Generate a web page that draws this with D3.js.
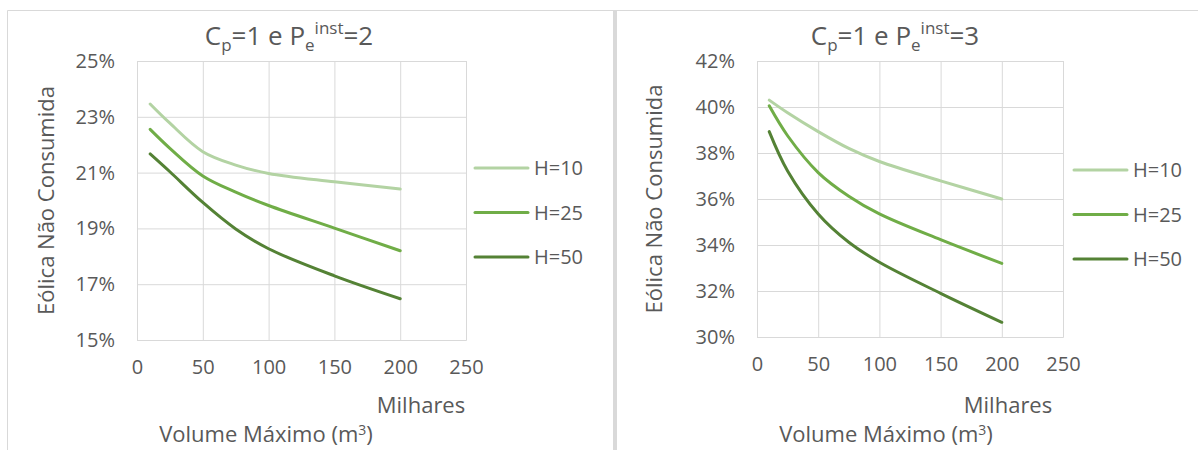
<!DOCTYPE html>
<html>
<head>
<meta charset="utf-8">
<script src="https://cdn.jsdelivr.net/npm/d3@7"></script>
<style>
  body { margin: 0; background: #fff; }
  svg { display: block; font-family: "Open Sans", sans-serif; }
</style>
</head>
<body>
<div id="chart"></div>
<script>
// data (values in %)
const volumes = [10, 25, 50, 75, 100, 150, 200];
const seriesNames = ["H=10", "H=25", "H=50"];

const leftH10 = [23.46, 22.77, 21.75, 21.27, 20.97, 20.67, 20.41];
const leftH25 = [22.55, 21.87, 20.88, 20.3, 19.82, 19.01, 18.2];
const leftH50 = [21.67, 21.03, 19.93, 18.98, 18.27, 17.3, 16.48];

const rightH10 = [40.3, 39.75, 38.93, 38.2, 37.63, 36.79, 36.0];
const rightH25 = [40.05, 38.75, 37.15, 36.12, 35.35, 34.23, 33.2];
const rightH50 = [38.93, 37.22, 35.35, 34.12, 33.25, 31.9, 30.64];

const xTicks = [0, 50, 100, 150, 200, 250];
const leftYTicks = [15, 17, 19, 21, 23, 25];
const rightYTicks = [30, 32, 34, 36, 38, 40, 42];

const colors = ["#b3d3a3", "#70ad47", "#548235"];
const textColor = "#595959";
const gridColor = "#d9d9d9";

const width = 1198;
const height = 450;

const svg = d3
  .select("#chart")
  .append("svg")
  .attr("width", width)
  .attr("height", height);

// chart area borders
svg.append("line")
  .attr("x1", 7.5).attr("x2", width).attr("y1", 10.5).attr("y2", 10.5)
  .attr("stroke", gridColor);
svg.append("line")
  .attr("x1", 7.5).attr("x2", 7.5).attr("y1", 10.5).attr("y2", height)
  .attr("stroke", gridColor);
svg.append("rect")
  .attr("x", 613).attr("y", 10).attr("width", 4).attr("height", height - 10)
  .attr("fill", gridColor);

function drawPanel(cfg) {
  const x = d3.scaleLinear().domain([0, 250]).range([cfg.left, cfg.right]);
  const y = d3.scaleLinear()
    .domain([cfg.yTicks[0], cfg.yTicks[cfg.yTicks.length - 1]])
    .range([cfg.bottom, cfg.top]);
  const plotW = cfg.right - cfg.left;
  const plotH = cfg.bottom - cfg.top;

  // y grid + labels
  const yAxisG = svg.append("g")
    .attr("transform", `translate(${cfg.left},0)`)
    .call(d3.axisLeft(y)
      .tickValues(cfg.yTicks)
      .tickSize(-plotW)
      .tickPadding(22)
      .tickFormat((d) => d + "%"));

  // x grid + labels
  const xAxisG = svg.append("g")
    .attr("transform", `translate(0,${cfg.bottom})`)
    .call(d3.axisBottom(x)
      .tickValues(xTicks)
      .tickSize(-plotH)
      .tickPadding(20));

  [yAxisG, xAxisG].forEach((g) => {
    g.select(".domain").attr("stroke", gridColor);
    g.selectAll(".tick line").attr("stroke", gridColor);
    g.selectAll(".tick text")
      .attr("fill", textColor)
      .style("font-size", "20px")
      .style("font-family", "'Open Sans', sans-serif");
  });

  const line = d3.line()
    .x((d) => x(d[0]))
    .y((d) => y(d[1]))
    .curve(d3.curveCatmullRom.alpha(0.5));

  cfg.series.forEach((vals, i) => {
    svg.append("path")
      .datum(volumes.map((v, j) => [v, vals[j]]))
      .attr("fill", "none")
      .attr("stroke", colors[i])
      .attr("stroke-width", 3)
      .attr("stroke-linecap", "round")
      .attr("d", line);
  });

  // title
  const title = svg.append("text")
    .attr("x", cfg.titleX)
    .attr("y", 45)
    .attr("text-anchor", "middle")
    .attr("fill", textColor)
    .style("font-size", "26px");
  title.append("tspan").text("C");
  title.append("tspan").attr("dy", 6).style("font-size", "17px").text("p");
  title.append("tspan").attr("dy", -6).text("=1 e P");
  title.append("tspan").attr("dy", 6).style("font-size", "17px").text("e");
  title.append("tspan").attr("dy", -17).style("font-size", "17px").text("inst");
  title.append("tspan").attr("dy", 11).text("=" + cfg.pe);

  // y axis title
  svg.append("text")
    .attr("transform", `translate(${cfg.yTitleX},${(cfg.top + cfg.bottom) / 2}) rotate(-90)`)
    .attr("text-anchor", "middle")
    .attr("dy", "0.35em")
    .attr("fill", textColor)
    .style("font-size", "22px")
    .text("Eólica Não Consumida");

  // display units + x axis title
  svg.append("text")
    .attr("x", cfg.unitX)
    .attr("y", 413)
    .attr("text-anchor", "middle")
    .attr("fill", textColor)
    .style("font-size", "22px")
    .text("Milhares");

  const xt = svg.append("text")
    .attr("x", cfg.xTitleX)
    .attr("y", 442)
    .attr("text-anchor", "middle")
    .attr("fill", textColor)
    .style("font-size", "22px");
  xt.append("tspan").text("Volume Máximo (m");
  xt.append("tspan").attr("dy", -7).style("font-size", "14px").text("3");
  xt.append("tspan").attr("dy", 7).text(")");

  // legend
  seriesNames.forEach((name, i) => {
    const ly = cfg.legendY + i * 44.5;
    svg.append("line")
      .attr("x1", cfg.legendX).attr("x2", cfg.legendX + 53)
      .attr("y1", ly).attr("y2", ly)
      .attr("stroke", colors[i])
      .attr("stroke-width", 3)
      .attr("stroke-linecap", "round");
    svg.append("text")
      .attr("x", cfg.legendX + 59)
      .attr("y", ly)
      .attr("dy", "0.35em")
      .attr("fill", textColor)
      .style("font-size", "20px")
      .text(name);
  });
}

drawPanel({
  left: 137, right: 466, top: 61, bottom: 340,
  yTicks: leftYTicks,
  series: [leftH10, leftH25, leftH50],
  pe: 2, titleX: 289, yTitleX: 46, unitX: 421, xTitleX: 266,
  legendX: 475, legendY: 168
});

drawPanel({
  left: 757, right: 1063, top: 61, bottom: 337,
  yTicks: rightYTicks,
  series: [rightH10, rightH25, rightH50],
  pe: 3, titleX: 895, yTitleX: 654, unitX: 1008, xTitleX: 886,
  legendX: 1074, legendY: 170
});
</script>
</body>
</html>
